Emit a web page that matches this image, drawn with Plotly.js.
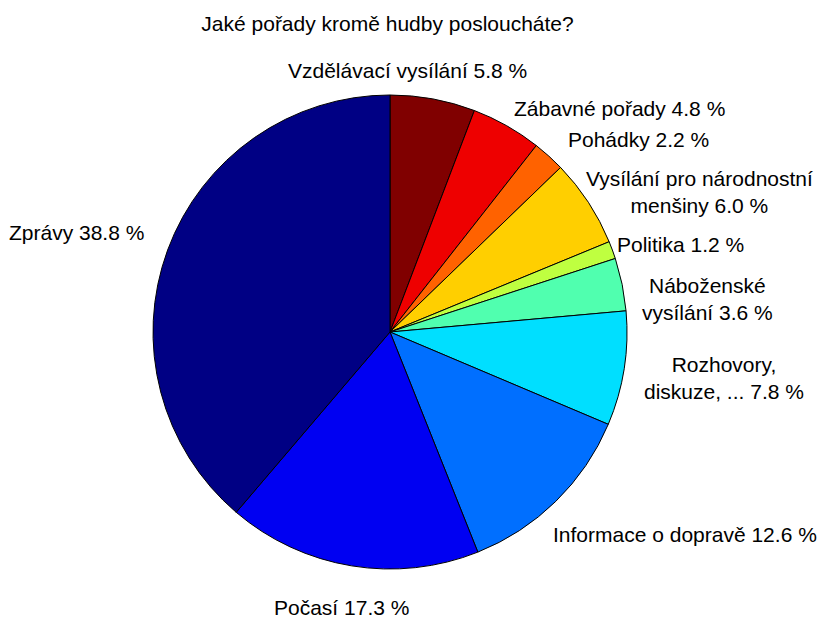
<!DOCTYPE html>
<html>
<head>
<meta charset="utf-8">
<script src="https://cdn.plot.ly/plotly-3.0.1.min.js"></script>
<style>
  body { margin: 0; background: #fff; }
  #chart { width: 820px; height: 619px; }
</style>
</head>
<body>
<div id="chart"></div>
<script>
// categories, clockwise from 12 o'clock
var categories = [
    'Vzdělávací vysílání',
    'Zábavné pořady',
    'Pohádky',
    'Vysílání pro národnostní<br>menšiny',
    'Politika',
    'Náboženské<br>vysílání',
    'Rozhovory,<br>diskuze, ...',
    'Informace o dopravě',
    'Počasí',
    'Zprávy'
];
var percents = [5.8, 4.8, 2.2, 6.0, 1.2, 3.6, 7.8, 12.6, 17.3, 38.8];
var sliceColors = ['#800000', '#ee0000', '#ff6200', '#ffcf00', '#bfff40',
                   '#50ffaf', '#00dfff', '#006fff', '#0000f2', '#000084'];

// small hand nudges (px) for labels the original chart moved off the default spot
var labelNudgeX = [-30, -5, 2, -23, -19, -4, -5, -20, -6, 0];
var labelNudgeY = [-5, 3, 1, 3, 3, 19, 6, 4, 6, -9];

var W = 820, H = 619;
var margin = { l: 153, r: 193, t: 95, b: 50 };
var plotW = W - margin.l - margin.r;
var plotH = H - margin.t - margin.b;
var R = Math.min(plotW, plotH) / 2;
var cx = margin.l + plotW / 2;
var cy = margin.t + plotH / 2;
var fontFam = 'Liberation Sans, Arial, sans-serif';

var total = percents.reduce(function(a, b) { return a + b; }, 0);

// labels sit at 1.1 R on the middle angle of every slice, as in the original
var annotations = [];
var cum = 0;
percents.forEach(function(v, i) {
    var ang = 2 * Math.PI * (cum + v / 2) / total;
    cum += v;
    var s = Math.sin(ang), c = Math.cos(ang);
    var px = cx + 1.1 * R * s + labelNudgeX[i];
    var py = cy - 1.1 * R * c + labelNudgeY[i];
    var xa = s > 0.3 ? 'left' : (s < -0.3 ? 'right' : 'center');
    var ya = c < -0.5 ? 'top' : 'middle';
    annotations.push({
        xref: 'paper', yref: 'paper',
        x: (px - margin.l) / plotW,
        y: 1 - (py - margin.t) / plotH,
        xanchor: xa, yanchor: ya,
        text: categories[i] + ' ' + v.toFixed(1) + ' %',
        showarrow: false,
        align: 'center',
        borderpad: 0,
        font: { family: fontFam, size: 21, color: '#000' }
    });
});

var pie = {
    type: 'pie',
    labels: categories,
    values: percents,
    textinfo: 'none',
    sort: false,
    direction: 'clockwise',
    rotation: 0,
    hoverinfo: 'skip',
    marker: {
        colors: sliceColors,
        line: { color: '#000', width: 1 }
    },
    showlegend: false
};

var layout = {
    width: W,
    height: H,
    margin: margin,
    paper_bgcolor: '#fff',
    title: {
        text: 'Jaké pořady kromě hudby posloucháte?',
        font: { family: fontFam, size: 21, color: '#000' },
        x: 0.4726,
        xanchor: 'center',
        y: 0.962,
        yanchor: 'middle'
    },
    font: { family: fontFam, size: 21, color: '#000' },
    annotations: annotations
};

Plotly.newPlot('chart', [pie], layout, { displayModeBar: false, staticPlot: true });
</script>
</body>
</html>
